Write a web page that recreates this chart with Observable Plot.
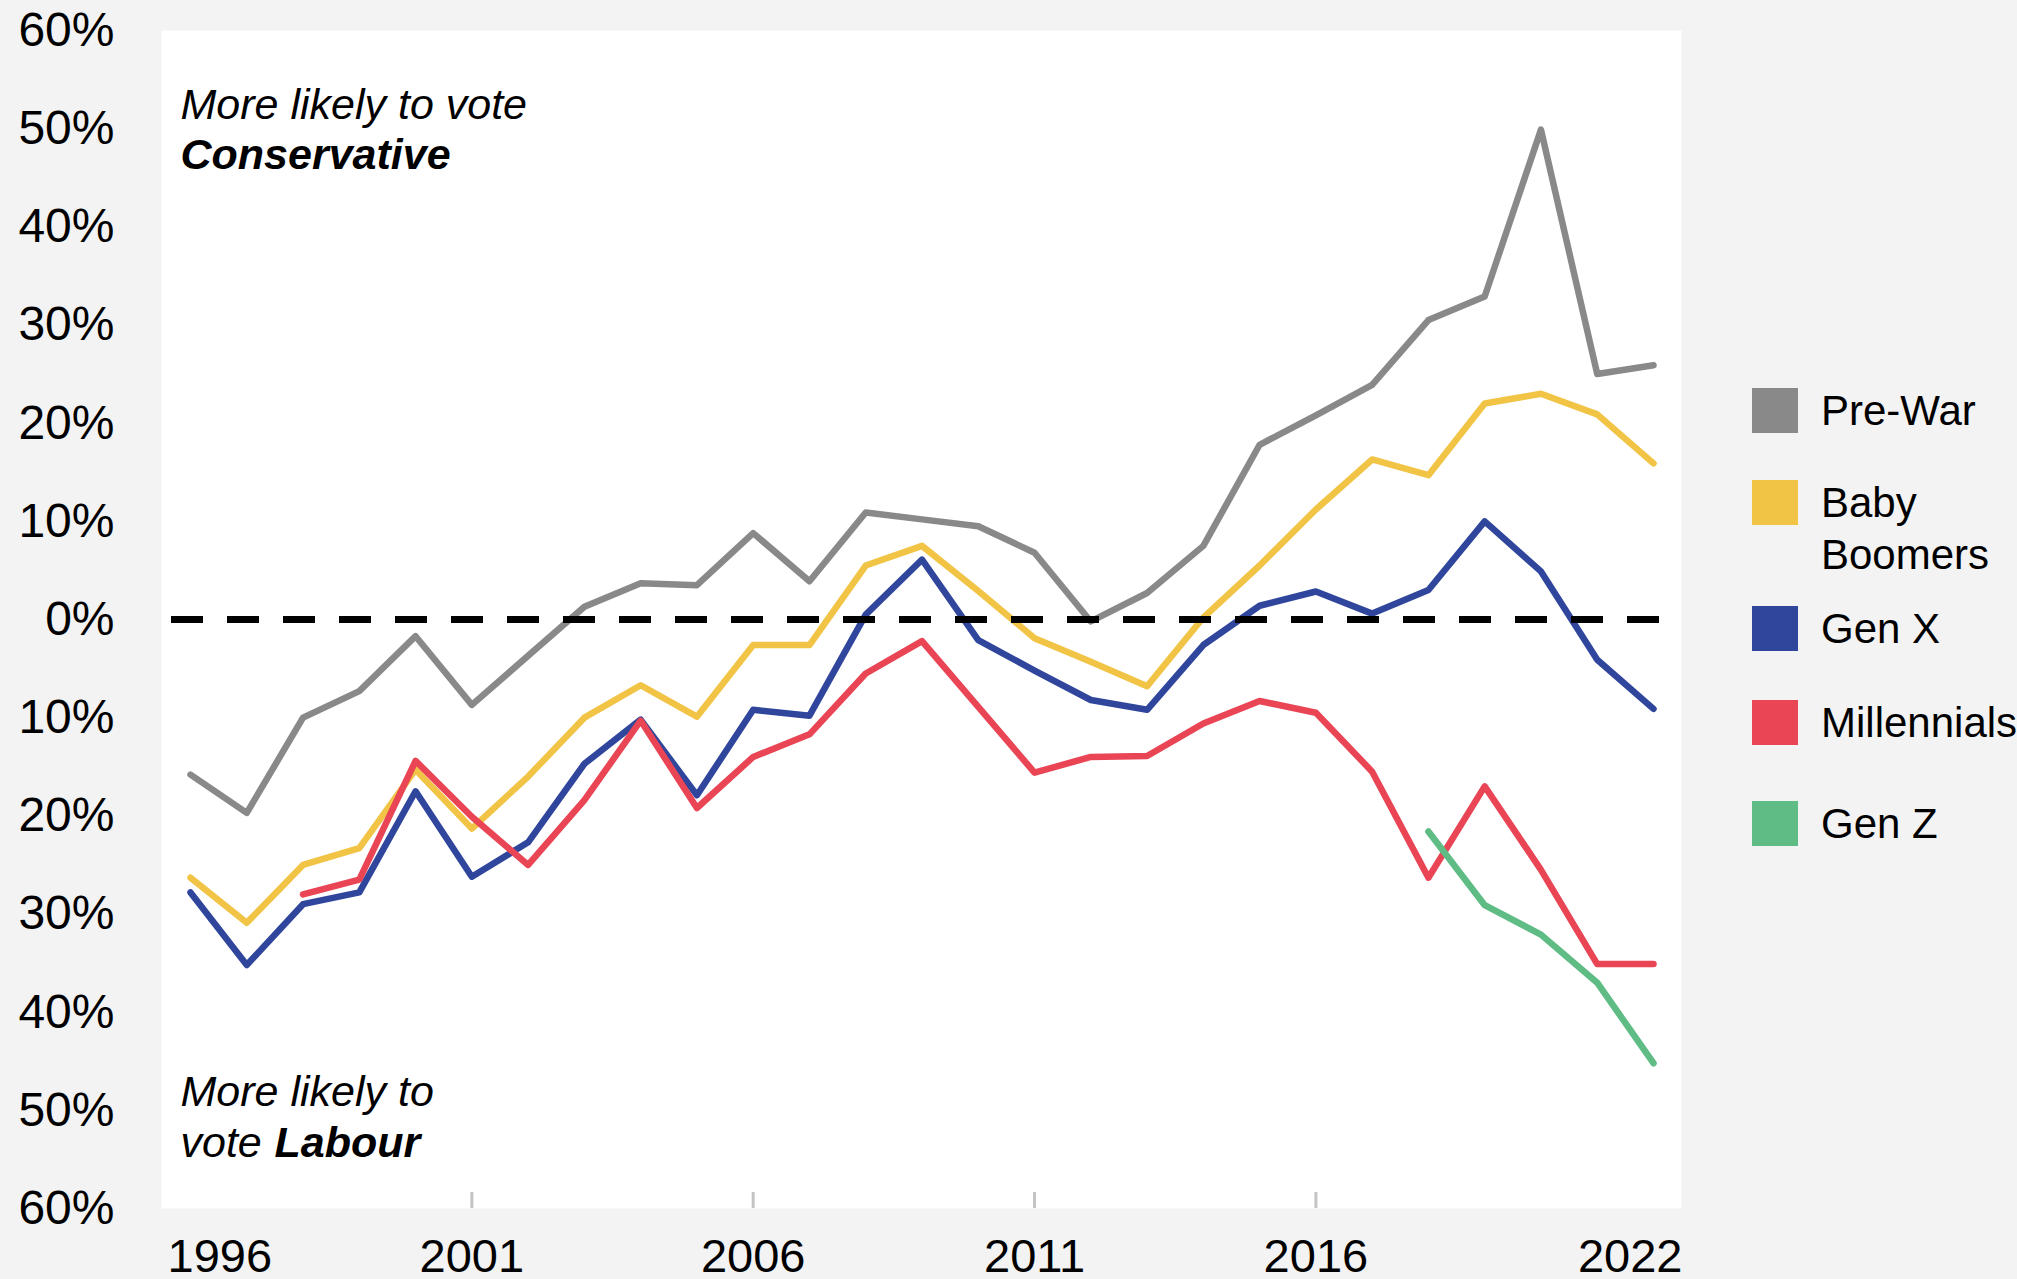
<!DOCTYPE html>
<html>
<head>
<meta charset="utf-8">
<script src="https://cdn.jsdelivr.net/npm/d3@7"></script>
<script src="https://cdn.jsdelivr.net/npm/@observablehq/plot@0.6"></script>
<style>
  html, body { margin: 0; padding: 0; background: #f3f3f3; overflow: hidden; }
  #wrap { position: relative; width: 2017px; height: 1279px; font-family: "Liberation Sans", Arial, Helvetica, sans-serif; }
  #legend .sw { position: absolute; width: 46px; height: 45px; }
  #legend .lb { position: absolute; font-size: 42px; line-height: 52px; color: #000; white-space: nowrap; }
</style>
</head>
<body>
<div id="wrap">
  <div id="chart"></div>
  <div id="legend"></div>
</div>
<script>
// ---- data ----
const years = [1996, 1997, 1998, 1999, 2000, 2001, 2002, 2003, 2004, 2005, 2006, 2007, 2008, 2009,
               2010, 2011, 2012, 2013, 2014, 2015, 2016, 2017, 2018, 2019, 2020, 2021, 2022];
const seriesNames = ["Pre-War", "Baby Boomers", "Gen X", "Millennials", "Gen Z"];
const seriesColors = ["#898989", "#f2c446", "#2f469c", "#e94555", "#5ebc84"];
const preWar = [-15.8, -19.7, -10.0, -7.3, -1.7, -8.7, -3.7, 1.3, 3.7, 3.5, 8.8, 3.9, 10.9, 10.2,
                9.5, 6.8, -0.2, 2.7, 7.5, 17.8, 20.8, 23.9, 30.5, 32.9, 49.9, 25.0, 25.9];
const babyBoomers = [-26.3, -30.9, -25.0, -23.3, -15.3, -21.3, -16.0, -10.0, -6.7, -9.9, -2.6, -2.6, 5.5, 7.5,
                     2.9, -1.9, -4.3, -6.8, 0.2, 5.5, 11.2, 16.3, 14.7, 22.0, 23.0, 20.9, 15.9];
const genX = [-27.8, -35.2, -29.0, -27.8, -17.5, -26.2, -22.7, -14.7, -10.2, -17.9, -9.2, -9.8, 0.5, 6.1,
              -2.1, -5.2, -8.2, -9.2, -2.6, 1.4, 2.85, 0.6, 3.0, 10.0, 4.9, -4.1, -9.1];
const millennials = [null, null, -28.0, -26.5, -14.4, -20.1, -25.0, -18.4, -10.3, -19.2, -14.0, -11.7, -5.5, -2.2,
                     -8.9, -15.6, -14.0, -13.9, -10.6, -8.3, -9.5, -15.5, -26.3, -17.0, -25.5, -35.1, -35.1];
const genZ = [null, null, null, null, null, null, null, null, null, null, null, null, null, null,
              null, null, null, null, null, null, null, null, -21.6, -29.1, -32.1, -37.0, -45.2];
const seriesValues = [preWar, babyBoomers, genX, millennials, genZ];

const yTicks = [-60, -50, -40, -30, -20, -10, 0, 10, 20, 30, 40, 50, 60];
const xTicksMiddle = [2001, 2006, 2011, 2016];
const xTickFirst = [1996];
const xTickLast = [2022];
const conservativeLines = ["More likely to vote", "Conservative"];
const labourLines = ["More likely to", "vote", "Labour"];

// ---- build long table ----
const rows = [];
seriesNames.forEach((name, si) => {
  seriesValues[si].forEach((v, i) => rows.push({series: name, year: years[i], value: v}));
});

const font = "'Liberation Sans', Arial, Helvetica, sans-serif";

const lineMarks = seriesNames.map((name, si) =>
  Plot.line(rows.filter(r => r.series === name), {
    x: "year", y: "value",
    stroke: seriesColors[si], strokeWidth: 6.5,
    strokeLinecap: "round", strokeLinejoin: "round"
  })
);

const chart = Plot.plot({
  width: 2017,
  height: 1279,
  marginLeft: 161,
  marginRight: 336,
  marginTop: 30,
  marginBottom: 71,
  style: {background: "#f3f3f3", fontFamily: font, color: "#000", overflow: "visible"},
  x: {domain: [1996, 2022], insetLeft: 29, insetRight: 28},
  y: {domain: [-60, 60]},
  marks: [
    Plot.frame({fill: "white", stroke: "none"}),
    Plot.tickX(xTicksMiddle, {x: d => d, stroke: "#c4c4c4", strokeWidth: 3, insetTop: 1162}),
    Plot.axisY(yTicks, {tickSize: 0, tickPadding: 47, fontSize: 48, label: null,
      tickFormat: d => Math.abs(d) + "%"}),
    Plot.axisX(xTicksMiddle, {tickSize: 0, tickPadding: 30, fontSize: 47, label: null, tickFormat: "d"}),
    Plot.axisX(xTickFirst, {tickSize: 0, tickPadding: 30, fontSize: 47, label: null, tickFormat: "d",
      textAnchor: "start", dx: -23}),
    Plot.axisX(xTickLast, {tickSize: 0, tickPadding: 30, fontSize: 47, label: null, tickFormat: "d",
      textAnchor: "end", dx: 29}),
    ...lineMarks,
    Plot.ruleY([0], {stroke: "#000", strokeWidth: 7, strokeDasharray: "32,24", insetLeft: 10}),
    Plot.text([conservativeLines[0]], {text: d => d, frameAnchor: "top-left", textAnchor: "start",
      lineAnchor: "top", dx: 19, dy: 58, fontSize: 43, fontStyle: "italic", fill: "#000"}),
    Plot.text([conservativeLines[1]], {text: d => d, frameAnchor: "top-left", textAnchor: "start",
      lineAnchor: "top", dx: 19, dy: 108, fontSize: 43, fontStyle: "italic", fontWeight: "bold", fill: "#000"}),
    Plot.text([labourLines[0]], {text: d => d, frameAnchor: "bottom-left", textAnchor: "start",
      lineAnchor: "top", dx: 19, dy: -133, fontSize: 43, fontStyle: "italic", fill: "#000"}),
    Plot.text([labourLines[1]], {text: d => d, frameAnchor: "bottom-left", textAnchor: "start",
      lineAnchor: "top", dx: 19, dy: -82, fontSize: 43, fontStyle: "italic", fill: "#000"}),
    Plot.text([labourLines[2]], {text: d => d, frameAnchor: "bottom-left", textAnchor: "start",
      lineAnchor: "top", dx: 113, dy: -82, fontSize: 43, fontStyle: "italic", fontWeight: "bold", fill: "#000"})
  ]
});
document.getElementById("chart").appendChild(chart);

// ---- legend (HTML) ----
const legend = document.getElementById("legend");
const swatchTops = [388, 480, 606, 700, 801];
const legendLabels = [["Pre-War"], ["Baby", "Boomers"], ["Gen X"], ["Millennials"], ["Gen Z"]];
seriesNames.forEach((name, i) => {
  const sw = document.createElement("div");
  sw.className = "sw";
  sw.style.left = "1752px";
  sw.style.top = swatchTops[i] + "px";
  sw.style.background = seriesColors[i];
  legend.appendChild(sw);
  const lb = document.createElement("div");
  lb.className = "lb";
  lb.style.left = "1821px";
  lb.style.top = (swatchTops[i] - 3) + "px";
  lb.innerHTML = legendLabels[i].join("<br>");
  legend.appendChild(lb);
});
legend.style.position = "absolute";
legend.style.left = "0";
legend.style.top = "0";
</script>
</body>
</html>
